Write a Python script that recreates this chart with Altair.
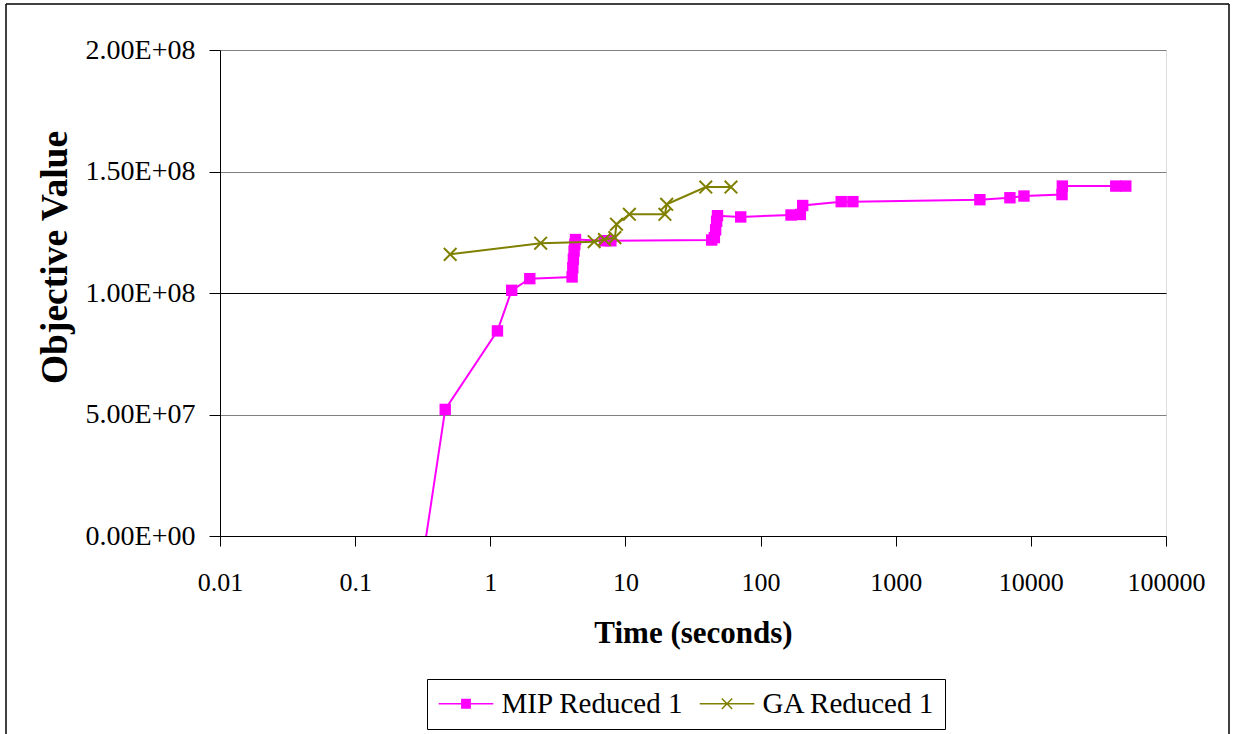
import altair as alt
import pandas as pd

FONT = "Liberation Serif, Times New Roman, serif"

# ---- data ----
mip_time = [0.3, 0.464, 1.13, 1.44, 1.96, 4.03, 4.08, 4.12, 4.17, 4.22, 4.27,
            7.0, 7.8, 43.5, 45.5, 46.5, 47.3, 48.0, 71.3, 168, 197, 205,
            395, 482, 4196, 7000, 8890, 17000, 17100, 42500, 50400]
mip_value = [-18e6, 52.1e6, 84.4e6, 101.1e6, 105.9e6, 106.6e6, 110.4e6, 113.9e6, 117.3e6, 120.0e6, 122.0e6,
             121.5e6, 121.5e6, 121.8e6, 122.8e6, 126.0e6, 129.5e6, 131.8e6, 131.3e6, 132.1e6, 132.3e6, 136.0e6,
             137.6e6, 137.6e6, 138.4e6, 139.2e6, 139.9e6, 140.5e6, 144.0e6, 144.0e6, 144.0e6]

ga_time = [0.505, 2.36, 5.87, 7.0, 8.35, 8.59, 10.7, 19.6, 20.2, 39.3, 60.4]
ga_value = [115.9e6, 120.5e6, 121.1e6, 122.0e6, 122.8e6, 128.3e6, 132.4e6, 132.4e6, 136.5e6, 143.6e6, 143.6e6]

series_names = ["MIP Reduced 1", "GA Reduced 1"]
series_colors = ["#FF00FF", "#808000"]

x_ticks = [0.01, 0.1, 1, 10, 100, 1000, 10000, 100000]
y_ticks = [0, 5e7, 1e8, 1.5e8, 2e8]

mip = pd.DataFrame({"time": mip_time, "value": mip_value, "series": series_names[0]})
ga = pd.DataFrame({"time": ga_time, "value": ga_value, "series": series_names[1]})
both = pd.concat([mip, ga], ignore_index=True)

x_enc = alt.X("time:Q",
              scale=alt.Scale(type="log", domain=[0.01, 100000]),
              axis=alt.Axis(title="Time (seconds)", values=x_ticks, grid=False,
                            labelExpr="datum.value >= 1 ? format(datum.value, 'd') : format(datum.value, '~g')",
                            labelFont=FONT, labelFontSize=26, labelColor="black", labelPadding=23,
                            labelFlush=False, labelOverlap=False,
                            titleFont=FONT, titleFontSize=31, titleFontWeight="bold", titleColor="black",
                            titlePadding=23,
                            domainColor="black", domainWidth=1, tickColor="black", tickSize=10))
y_enc = alt.Y("value:Q",
              scale=alt.Scale(domain=[0, 2e8], nice=False, zero=False),
              axis=alt.Axis(title="Objective Value", values=y_ticks,
                            labelExpr="replace(format(datum.value, '.2e'), 'e+', 'E+0')",
                            labelFont=FONT, labelFontSize=28, labelColor="black", labelPadding=14,
                            titleFont=FONT, titleFontSize=37.5, titleFontWeight="bold", titleColor="black",
                            titlePadding=11, titleY=207,
                            grid=True,
                            gridColor={"condition": {"test": "datum.value === 100000000", "value": "black"},
                                       "value": "#808080"},
                            gridWidth=1,
                            domainColor="black", domainWidth=1, tickColor="black", tickSize=11))

mip_sym = "M-2.1,0L2.1,0M-0.32,-0.32L0.32,-0.32L0.32,0.32L-0.32,0.32Z"
ga_sym = "M-2.1,0L2.1,0M-0.4,-0.4L0.4,0.4M-0.4,0.4L0.4,-0.4"

legend = alt.Legend(
    title=None, orient="none", legendX=207, legendY=629, direction="horizontal",
    labelFont=FONT, labelFontSize=29, labelColor="black", labelLimit=400,
    strokeColor="black", fillColor="white", padding=10,
    symbolSize=676, symbolStrokeWidth=1.5, symbolOpacity=1,
    symbolOffset=14.5, labelOffset=21, columnPadding=12,
)

mip_line = alt.Chart(mip).mark_line(clip=True, strokeWidth=2, color=series_colors[0]).encode(
    x=x_enc, y=y_enc, order="time:Q")
mip_pts = alt.Chart(mip).mark_point(clip=True, shape="square", filled=True, size=130, opacity=1,
                                    color=series_colors[0]).encode(x=x_enc, y=y_enc)
ga_line = alt.Chart(ga).mark_line(clip=True, strokeWidth=2, color=series_colors[1]).encode(
    x=x_enc, y=y_enc, order="time:Q")
ga_pts = alt.Chart(ga).mark_point(clip=True, shape="M-1,-1L1,1M-1,1L1,-1", filled=False, size=160,
                                  strokeWidth=2, opacity=1, color=series_colors[1]).encode(x=x_enc, y=y_enc)

# invisible layer that only feeds the legend
legend_layer = alt.Chart(both).mark_point(clip=True, filled=True, opacity=0, strokeWidth=1.5).encode(
    x=x_enc, y=y_enc,
    color=alt.Color("series:N", scale=alt.Scale(domain=series_names, range=series_colors), legend=legend),
    stroke=alt.Stroke("series:N", scale=alt.Scale(domain=series_names, range=series_colors), legend=legend),
    shape=alt.Shape("series:N", scale=alt.Scale(domain=series_names, range=[mip_sym, ga_sym]), legend=legend),
)

# outer frame of the figure (decoration)
frame_data = alt.Data(values=[{"k": 0}])
frame_top = alt.Chart(frame_data).mark_rule(color="black", strokeWidth=1.5, clip=False).encode(
    x=alt.value(-214), x2=alt.value(1009), y=alt.value(-46))
frame_left = alt.Chart(frame_data).mark_rule(color="black", strokeWidth=1.5, clip=False).encode(
    x=alt.value(-214), y=alt.value(-46), y2=alt.value(684))
frame_right = alt.Chart(frame_data).mark_rule(color="black", strokeWidth=1.5, clip=False).encode(
    x=alt.value(1009), y=alt.value(-46), y2=alt.value(684))

chart = alt.layer(
    mip_line, mip_pts, ga_line, ga_pts, legend_layer, frame_top, frame_left, frame_right
).properties(
    width=946, height=486,
    padding={"left": 5, "top": 3, "right": 0, "bottom": 0},
).configure_view(
    stroke="#808080", strokeWidth=1.5,
).configure(background="white")

chart.save("out.html", embed_options={"renderer": "svg", "actions": False})
